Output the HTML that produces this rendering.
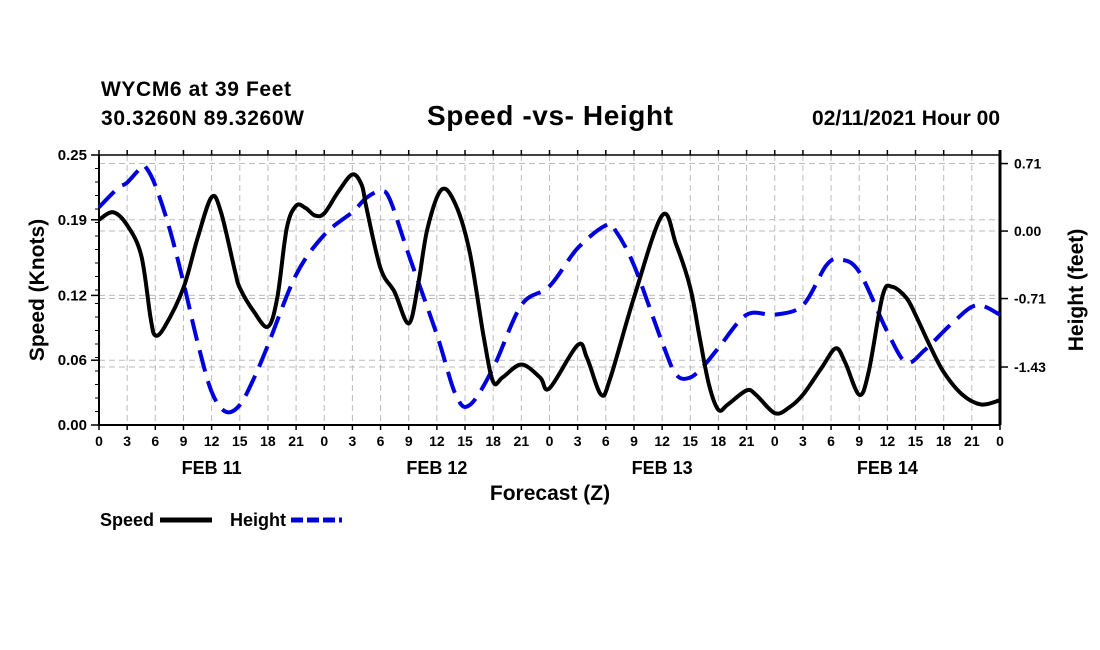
<!DOCTYPE html>
<html><head><meta charset="utf-8"><style>
body{margin:0;background:#fff;}
svg{display:block;font-family:"Liberation Sans",Arial,sans-serif;}
</style></head><body>
<svg id="chart" width="1100" height="650" viewBox="0 0 1100 650" xmlns="http://www.w3.org/2000/svg">
<rect width="1100" height="650" fill="#fff"/>
<text x="101" y="96" font-size="21" font-weight="bold" textLength="190">WYCM6 at 39 Feet</text>
<text x="101" y="125" font-size="21" font-weight="bold" textLength="203">30.3260N 89.3260W</text>
<text x="550" y="125" font-size="28" font-weight="bold" text-anchor="middle" textLength="246">Speed -vs- Height</text>
<text x="1000" y="125" font-size="21" font-weight="bold" text-anchor="end">02/11/2021 Hour 00</text>
<g id="grid"></g>
<g id="axes"></g>
<g id="series"></g>
<text x="550" y="500" font-size="21" font-weight="bold" text-anchor="middle">Forecast (Z)</text>
<text transform="translate(44,290) rotate(-90)" font-size="21" font-weight="bold" text-anchor="middle">Speed (Knots)</text>
<text transform="translate(1083,290) rotate(-90)" font-size="21" font-weight="bold" text-anchor="middle">Height (feet)</text>
<g>
<text x="100" y="526" font-size="18" font-weight="bold">Speed</text>
<line x1="160" y1="520" x2="212" y2="520" stroke="#000" stroke-width="5"/>
<text x="230" y="526" font-size="18" font-weight="bold">Height</text>
<line x1="291" y1="520" x2="342" y2="520" stroke="#0000dd" stroke-width="5" stroke-dasharray="12,4"/>
</g>
</svg>
<script>
const speedHours=[0,1.5,3,4.5,5.5,6,7,9,10.5,12,13,14.5,15,16.5,18,19,20,21,22,23,24,25.5,27,28,28.5,30,31.5,33,34,35,36.5,38,39.5,41,42,43,45,47,48,51,52,53.5,54.5,57,60,61.5,63,64,65,66,67,69,70,72,73.5,75,77,78.5,79.5,81,82,83.5,84.5,86,87,88.5,90,92,94,96];
const speedValues=[0.190,0.197,0.185,0.157,0.099,0.083,0.091,0.127,0.173,0.211,0.197,0.142,0.127,0.105,0.091,0.118,0.182,0.203,0.201,0.194,0.196,0.216,0.232,0.222,0.201,0.145,0.123,0.094,0.130,0.182,0.218,0.204,0.160,0.081,0.040,0.044,0.056,0.044,0.034,0.074,0.062,0.028,0.044,0.118,0.194,0.167,0.127,0.081,0.037,0.014,0.019,0.032,0.028,0.011,0.016,0.028,0.053,0.071,0.058,0.028,0.049,0.120,0.128,0.118,0.102,0.074,0.049,0.028,0.019,0.023];
const heightHours=[0,2,3,4.5,5,6,7.5,9,10.5,12,13.5,15,16.5,18,21,24,27,28.5,30,31,33,36,38,39.5,42,45,48,51,54,55,57,60,61.5,63,64.5,66,69,72,75,77.5,79,81,84,86,88,91,93.5,96];
const heightValues=[0.25,0.45,0.51,0.67,0.67,0.48,0.03,-0.54,-1.17,-1.69,-1.90,-1.83,-1.55,-1.20,-0.46,-0.04,0.20,0.35,0.42,0.33,-0.25,-1.09,-1.72,-1.83,-1.44,-0.78,-0.58,-0.18,0.06,0.01,-0.36,-1.17,-1.51,-1.54,-1.41,-1.23,-0.88,-0.88,-0.78,-0.36,-0.30,-0.43,-1.06,-1.38,-1.25,-0.96,-0.78,-0.88];
const leftTicks=[0,0.06,0.12,0.19,0.25];
const leftTickLabels=["0.00","0.06","0.12","0.19","0.25"];
const rightTicks=[0.71,0,-0.71,-1.43];
const rightTickLabels=["0.71","0.00","-0.71","-1.43"];
const dayLabels=["FEB 11","FEB 12","FEB 13","FEB 14"];

const L=99,R=1000,T=155,B=425;
const x=h=>L+h*(R-L)/96;
const yL=v=>B-v*(B-T)/0.25;
const rTop=0.80,rBot=-2.04;
const yR=v=>T+(rTop-v)*(B-T)/(rTop-rBot);
const NS='http://www.w3.org/2000/svg';
function mk(tag,attrs,parent){const e=document.createElementNS(NS,tag);for(const k in attrs)e.setAttribute(k,attrs[k]);parent.appendChild(e);return e;}
const grid=document.getElementById('grid'),axes=document.getElementById('axes'),series=document.getElementById('series');
for(let h=3;h<96;h+=3){const g=mk('line',{x1:x(h),y1:T,x2:x(h),y2:B,stroke:'#bbb','stroke-dasharray':'6,4','stroke-width':1},grid);

}
leftTicks.forEach(v=>{if(v>0&&v<0.25){const g=mk('line',{x1:L,y1:yL(v),x2:R,y2:yL(v),stroke:'#bbb','stroke-dasharray':'6,4'},grid);

}});
rightTicks.forEach(v=>{const g=mk('line',{x1:L,y1:yR(v),x2:R,y2:yR(v),stroke:'#bbb','stroke-dasharray':'6,4'},grid);

});
mk('line',{x1:L,y1:T,x2:R,y2:T,stroke:'#000','stroke-width':1.5},axes);
mk('line',{x1:L,y1:B,x2:R,y2:B,stroke:'#000','stroke-width':2},axes);
mk('line',{x1:L,y1:T,x2:L,y2:B,stroke:'#000','stroke-width':2},axes);
mk('line',{x1:R,y1:T-5,x2:R,y2:B,stroke:'#000','stroke-width':3},axes);
for(let h=0;h<=96;h+=3){
mk('line',{x1:x(h),y1:B,x2:x(h),y2:B+5,stroke:'#000','stroke-width':1.5},axes);
mk('line',{x1:x(h),y1:T,x2:x(h),y2:T-5,stroke:'#000','stroke-width':1.5},axes);
const t=mk('text',{x:x(h),y:B+21,'font-size':14,'font-weight':'bold','text-anchor':'middle'},axes);


t.textContent=String(h%24);}
dayLabels.forEach((d,i)=>{const t=mk('text',{x:x(12+24*i),y:474,'font-size':18,'font-weight':'bold','text-anchor':'middle'},axes);


t.textContent=d;});
for(let i=0;i<=20;i++){const v=i*0.25/20;mk('line',{x1:L,y1:yL(v),x2:L-4,y2:yL(v),stroke:'#000'},axes);}
leftTicks.forEach((v,i)=>{mk('line',{x1:L,y1:yL(v),x2:L-8,y2:yL(v),stroke:'#000','stroke-width':1.5},axes);
const t=mk('text',{x:L-12,y:yL(v)+5,'font-size':15,'font-weight':'bold','text-anchor':'end'},axes);


t.textContent=leftTickLabels[i];});
rightTicks.forEach((v,i)=>{mk('line',{x1:R,y1:yR(v),x2:R+8,y2:yR(v),stroke:'#000','stroke-width':1.5},axes);
const t=mk('text',{x:R+14,y:yR(v)+5,'font-size':14,'font-weight':'bold'},axes);


t.textContent=rightTickLabels[i];});
function smooth(pts){let d='M'+pts[0][0]+','+pts[0][1];
for(let i=0;i<pts.length-1;i++){const p0=pts[Math.max(0,i-1)],p1=pts[i],p2=pts[i+1],p3=pts[Math.min(pts.length-1,i+2)];
const c1x=p1[0]+(p2[0]-p0[0])/6,c1y=p1[1]+(p2[1]-p0[1])/6,c2x=p2[0]-(p3[0]-p1[0])/6,c2y=p2[1]-(p3[1]-p1[1])/6;
d+=` C${c1x},${c1y} ${c2x},${c2y} ${p2[0]},${p2[1]}`;}return d;}
const hp=mk('path',{d:smooth(heightHours.map((h,i)=>[x(h),yR(heightValues[i])])),fill:'none',stroke:'#0000dd','stroke-width':4,'stroke-dasharray':'22,10'},series);


const sp=mk('path',{d:smooth(speedHours.map((h,i)=>[x(h),yL(speedValues[i])])),fill:'none',stroke:'#000','stroke-width':4,'stroke-linejoin':'round'},series);


</script>
</body></html>
